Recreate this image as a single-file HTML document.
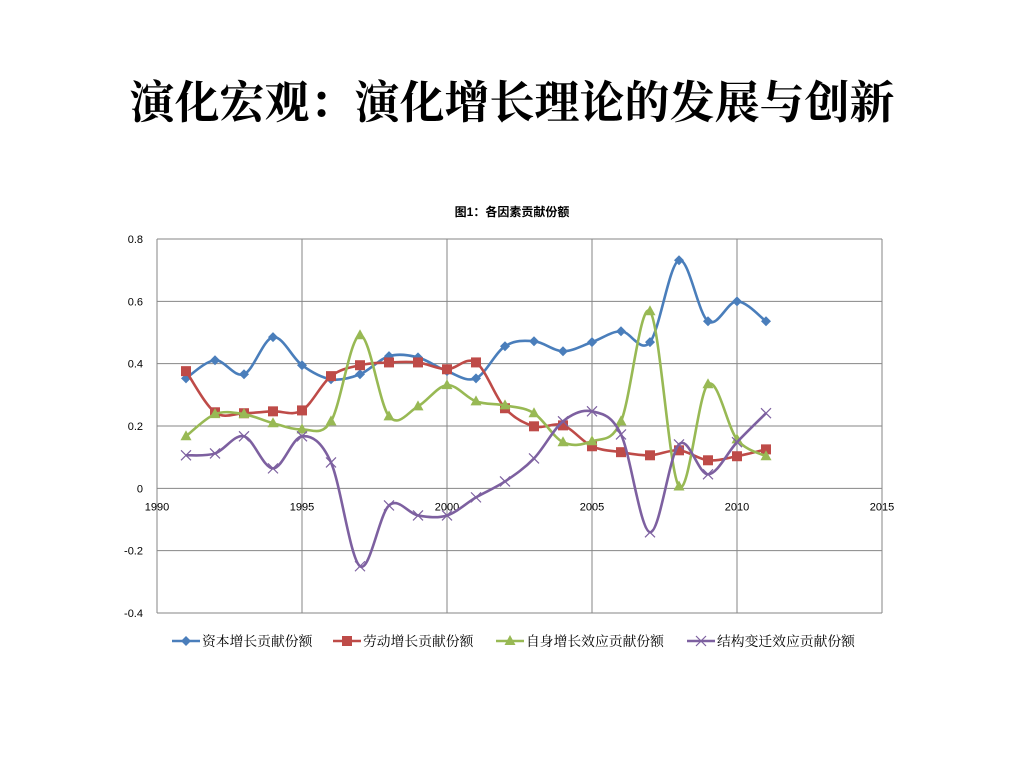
<!DOCTYPE html>
<html><head><meta charset="utf-8"><style>
body{margin:0;width:1024px;height:768px;background:#fff;overflow:hidden;font-family:"Liberation Sans","Noto Sans CJK SC",sans-serif}
#title{position:absolute;left:0;width:1024px;top:66px;text-align:center;font-family:"Liberation Serif","Noto Serif CJK SC",serif;font-weight:bold;font-size:45px;color:#000;white-space:nowrap}
svg{position:absolute;left:0;top:0}
</style></head><body>
<div id="title">演化宏观：演化增长理论的发展与创新</div>
<svg id="chart" width="1024" height="768"></svg>
<script>
const years=[1991,1992,1993,1994,1995,1996,1997,1998,1999,2000,2001,2002,2003,2004,2005,2006,2007,2008,2009,2010,2011];
const capital=[0.353,0.411,0.366,0.485,0.395,0.35,0.366,0.424,0.42,0.376,0.353,0.456,0.472,0.44,0.469,0.504,0.469,0.732,0.536,0.6,0.536];
const labor=[0.376,0.244,0.241,0.247,0.25,0.36,0.395,0.404,0.404,0.382,0.404,0.257,0.199,0.202,0.135,0.116,0.106,0.122,0.09,0.103,0.125];
const self=[0.167,0.238,0.238,0.209,0.189,0.215,0.491,0.231,0.263,0.331,0.279,0.266,0.241,0.148,0.151,0.215,0.568,0.006,0.334,0.157,0.103];
const struct=[0.106,0.112,0.167,0.064,0.167,0.083,-0.25,-0.055,-0.087,-0.087,-0.029,0.022,0.096,0.215,0.247,0.173,-0.141,0.141,0.045,0.148,0.241];
const xTicks=[1990,1995,2000,2005,2010,2015];
const yTicks=[-0.4,-0.2,0,0.2,0.4,0.6,0.8];
const seriesNames=["资本增长贡献份额","劳动增长贡献份额","自身增长效应贡献份额","结构变迁效应贡献份额"];
const colors=["#4a7ebb","#be4b48","#98b954","#7d60a0"];
const X0=157,X1=882,Y0=613,Y1=239;
const x=v=>X0+(v-1990)/(2015-1990)*(X1-X0);
const y=v=>Y0-(v+0.4)/1.2*(Y0-Y1);
const svg=document.getElementById('chart');
const NS='http://www.w3.org/2000/svg';
function mk(t,a,p){const e=document.createElementNS(NS,t);for(const k in a)e.setAttribute(k,a[k]);(p||svg).appendChild(e);return e;}
const t=mk('text',{x:512,y:216,'text-anchor':'middle','font-size':'12','font-weight':'bold'});t.textContent='图1：各因素贡献份额';


yTicks.forEach(v=>{const l=mk('line',{x1:X0,x2:X1,y1:y(v),y2:y(v),stroke:'#868686','stroke-width':1});


const tx=mk('text',{x:143,y:y(v)+4,'text-anchor':'end','font-size':'11'});tx.textContent=v===0?'0':v.toFixed(1);

});
xTicks.forEach(v=>{const l=mk('line',{x1:x(v),x2:x(v),y1:Y1,y2:Y0,stroke:'#868686','stroke-width':1});


const tx=mk('text',{x:x(v),y:y(0)+22,'text-anchor':'middle','font-size':'11'});tx.textContent=v;

});
function path(vals){const p=vals.map((v,i)=>[x(years[i]),y(v)]);let d='M'+p[0][0]+','+p[0][1];
for(let i=0;i<p.length-1;i++){const a=p[i-1]||p[i],b=p[i],c=p[i+1],e=p[i+2]||c;
d+=` C${b[0]+(c[0]-a[0])/6},${b[1]+(c[1]-a[1])/6} ${c[0]-(e[0]-b[0])/6},${c[1]-(e[1]-b[1])/6} ${c[0]},${c[1]}`;}return d;}
function marker(k,cx,cy,g){const c=colors[k];
if(k===0)return mk('polygon',{points:`${cx},${cy-5} ${cx+5},${cy} ${cx},${cy+5} ${cx-5},${cy}`,fill:c},g);
if(k===1)return mk('rect',{x:cx-5,y:cy-5,width:10,height:10,fill:c},g);
if(k===2)return mk('polygon',{points:`${cx},${cy-6} ${cx+5.5},${cy+4} ${cx-5.5},${cy+4}`,fill:c},g);
return mk('path',{d:`M${cx-5},${cy-5}L${cx+5},${cy+5}M${cx-5},${cy+5}L${cx+5},${cy-5}`,stroke:c,'stroke-width':1.2,fill:'none'},g);}
[capital,labor,self,struct].forEach((vals,k)=>{const g=mk('g',{});


mk('path',{d:path(vals),fill:'none',stroke:colors[k],'stroke-width':2.6},g);
vals.forEach((v,i)=>{const m=marker(k,x(years[i]),y(v),g);

});});
const lx=[172,333,496,687];
seriesNames.forEach((n,k)=>{const g=mk('g',{});


mk('line',{x1:lx[k],x2:lx[k]+28,y1:641,y2:641,stroke:colors[k],'stroke-width':2.6},g);
marker(k,lx[k]+14,641,g);
const tx=mk('text',{x:lx[k]+30,y:646,'font-size':'13.8','font-family':'"Liberation Serif","Noto Serif CJK SC",serif'},g);tx.textContent=n;});
</script>
</body></html>
